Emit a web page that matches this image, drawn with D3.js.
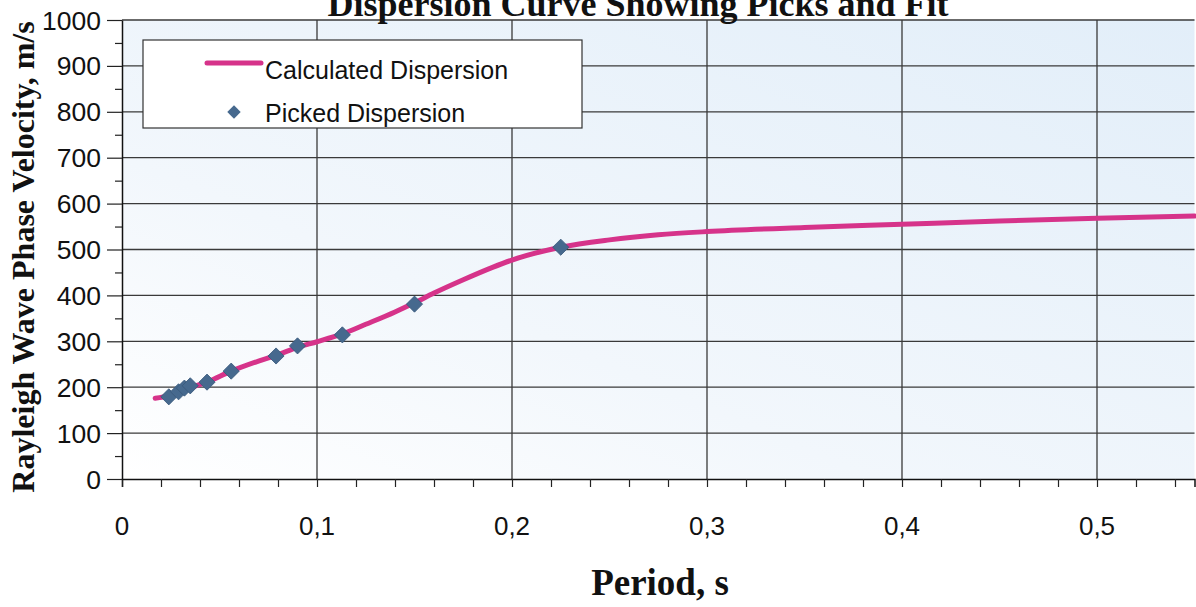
<!DOCTYPE html>
<html>
<head>
<meta charset="utf-8">
<script src="https://cdn.jsdelivr.net/npm/d3@7"></script>
<style>
  html, body { margin: 0; padding: 0; background: #ffffff; }
  svg { display: block; }
</style>
</head>
<body>
<svg id="chart" width="1196" height="607"></svg>
<script>
// ---- data ----
const pickedPeriod   = [0.024, 0.029, 0.032, 0.035, 0.0436, 0.056, 0.079, 0.090, 0.113, 0.150, 0.225];
const pickedVelocity = [179,   190,   198,   203,   211,    235,   268,   290,   314,   381,   505];
const calcPeriod   = [0.017, 0.024, 0.035, 0.044, 0.056, 0.07, 0.08, 0.09, 0.10, 0.113, 0.125, 0.14, 0.15, 0.16, 0.175, 0.19, 0.20, 0.225, 0.25, 0.275, 0.30, 0.35, 0.40, 0.45, 0.50, 0.55];
const calcVelocity = [176,   181,   199,   212,   235,   257,  271,  287,  299,  316,   337,   364,  384,  405,  434,   461,  477,  505,   521,  532,   539,  548,  555,  562,  568,  573];
const xTicks = [0, 0.1, 0.2, 0.3, 0.4, 0.5];
const xTickLabels = ["0", "0,1", "0,2", "0,3", "0,4", "0,5"];
const yTicks = [0, 100, 200, 300, 400, 500, 600, 700, 800, 900, 1000];
const titleText = "Dispersion Curve Showing Picks and Fit";
const xTitle = "Period, s";
const yTitle = "Rayleigh Wave Phase Velocity, m/s";
const legendLabels = ["Calculated Dispersion", "Picked Dispersion"];

// ---- layout ----
const svg = d3.select("#chart");
const pLeft = 122, pRight = 1194.5, pTop = 20, pBottom = 479;
const x = d3.scaleLinear().domain([0, 0.55]).range([pLeft, pRight]);
const y = d3.scaleLinear().domain([0, 1000]).range([pBottom, pTop]);

const defs = svg.append("defs");
const grad = defs.append("linearGradient").attr("id", "bg")
  .attr("x1", "0").attr("y1", "1").attr("x2", "1").attr("y2", "0");
grad.append("stop").attr("offset", "0").attr("stop-color", "#ffffff");
grad.append("stop").attr("offset", "0.35").attr("stop-color", "#f2f7fc");
grad.append("stop").attr("offset", "1").attr("stop-color", "#e2eef9");

svg.append("rect").attr("x", pLeft).attr("y", pTop)
  .attr("width", pRight - pLeft).attr("height", pBottom - pTop)
  .attr("fill", "url(#bg)");

// gridlines
svg.append("g").selectAll("line").data(yTicks.filter(d => d > 0)).join("line")
  .attr("x1", pLeft).attr("x2", pRight)
  .attr("y1", d => y(d)).attr("y2", d => y(d))
  .attr("stroke", "#3a3a3a").attr("stroke-width", 1.3);
svg.append("g").selectAll("line").data(xTicks.filter(d => d > 0)).join("line")
  .attr("x1", d => x(d)).attr("x2", d => x(d))
  .attr("y1", pTop).attr("y2", pBottom)
  .attr("stroke", "#3a3a3a").attr("stroke-width", 1.3);

// x axis
const xMinor = d3.range(0, 0.5501, 0.02);
const xAxis = d3.axisBottom(x).tickValues(xMinor).tickSize(8).tickFormat("");
const gx = svg.append("g").attr("transform", `translate(0,${pBottom})`).call(xAxis);
gx.select(".domain").attr("stroke", "#111").attr("stroke-width", 1.5);
gx.selectAll(".tick line").attr("stroke", "#222").attr("stroke-width", 1.2);

svg.append("g").selectAll("text").data(xTicks).join("text")
  .attr("x", (d) => x(d)).attr("y", 535)
  .attr("text-anchor", "middle")
  .attr("font-family", "Liberation Sans, Arial, sans-serif")
  .attr("font-size", 26).attr("fill", "#111")
  .text((d, i) => xTickLabels[i]);

// y axis
const yMinor = d3.range(0, 1001, 50);
const yAxis = d3.axisLeft(y).tickValues(yMinor)
  .tickSize(0).tickFormat("");
const gy = svg.append("g").attr("transform", `translate(${pLeft},0)`).call(yAxis);
gy.select(".domain").attr("stroke", "#111").attr("stroke-width", 1.5);
gy.selectAll(".tick").append("line")
  .attr("x1", d => d % 100 === 0 ? -15 : -7).attr("x2", 0)
  .attr("stroke", "#222").attr("stroke-width", 1.2);

svg.append("g").selectAll("text").data(yTicks).join("text")
  .attr("x", 101).attr("y", d => y(d) + 9.5)
  .attr("text-anchor", "end")
  .attr("font-family", "Liberation Sans, Arial, sans-serif")
  .attr("font-size", 26.5).attr("fill", "#111")
  .text(d => d);

// calculated curve
const pts = calcPeriod.map((p, i) => [p, calcVelocity[i]]);
const line = d3.line().x(d => x(d[0])).y(d => y(d[1])).curve(d3.curveMonotoneX);
svg.append("path").datum(pts).attr("d", line)
  .attr("fill", "none").attr("stroke", "#d6338a").attr("stroke-width", 5)
  .attr("stroke-linecap", "round");

// picked points
const diamond = d3.symbol().type(d3.symbolSquare).size(130);
svg.append("g").selectAll("path").data(pickedPeriod).join("path")
  .attr("transform", (d, i) => `translate(${x(d)},${y(pickedVelocity[i])}) rotate(45)`)
  .attr("d", diamond)
  .attr("fill", "#46698e").attr("stroke", "#3a5a7c").attr("stroke-width", 0.8);

// legend
const lg = svg.append("g");
lg.append("rect").attr("x", 143).attr("y", 40).attr("width", 439).attr("height", 88)
  .attr("fill", "#ffffff").attr("stroke", "#333").attr("stroke-width", 1.2);
lg.append("line").attr("x1", 207).attr("x2", 261).attr("y1", 63).attr("y2", 63)
  .attr("stroke", "#d6338a").attr("stroke-width", 5).attr("stroke-linecap", "round");
lg.append("text").attr("x", 265).attr("y", 79)
  .attr("font-family", "Liberation Sans, Arial, sans-serif").attr("font-size", 25).attr("fill", "#111")
  .text(legendLabels[0]);
lg.append("path").attr("transform", "translate(234,112) rotate(45)")
  .attr("d", d3.symbol().type(d3.symbolSquare).size(90))
  .attr("fill", "#46698e");
lg.append("text").attr("x", 265).attr("y", 122)
  .attr("font-family", "Liberation Sans, Arial, sans-serif").attr("font-size", 25).attr("fill", "#111")
  .text(legendLabels[1]);

// titles
svg.append("text").attr("x", 638).attr("y", 16)
  .attr("text-anchor", "middle")
  .attr("font-family", "Liberation Serif, Times New Roman, serif")
  .attr("font-weight", "bold").attr("font-size", 36).attr("fill", "#111")
  .text(titleText);
svg.append("text").attr("x", 660).attr("y", 595)
  .attr("text-anchor", "middle")
  .attr("font-family", "Liberation Serif, Times New Roman, serif")
  .attr("font-weight", "bold").attr("font-size", 37).attr("fill", "#111")
  .text(xTitle);
svg.append("text")
  .attr("transform", "translate(34,257) rotate(-90)")
  .attr("text-anchor", "middle")
  .attr("font-family", "Liberation Serif, Times New Roman, serif")
  .attr("font-weight", "bold").attr("font-size", 32).attr("fill", "#111")
  .text(yTitle);
</script>
</body>
</html>
